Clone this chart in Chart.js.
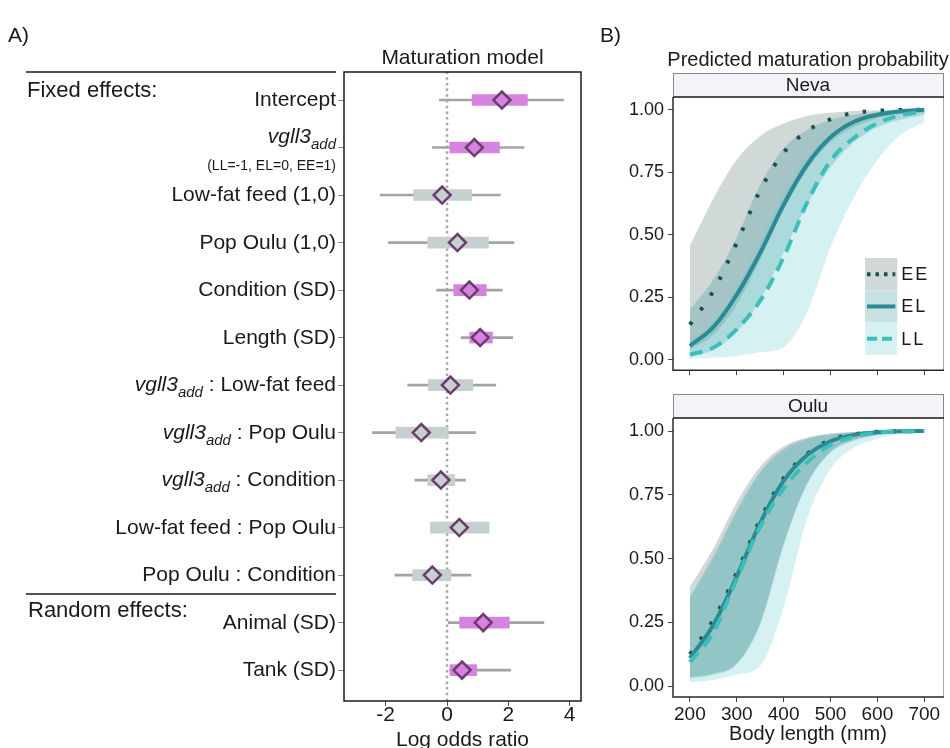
<!DOCTYPE html>
<html>
<head>
<meta charset="utf-8">
<script src="https://cdn.jsdelivr.net/npm/chart.js@4.4.1/dist/chart.umd.min.js"></script>
<style>
  body { margin: 0; background: #fff; width: 950px; height: 748px; overflow: hidden; position: relative; }
  canvas { position: absolute; }
  #cA { left: 0; top: 0; }
  #cN { left: 600px; top: 0; }
  #cO { left: 600px; top: 385px; }
</style>
</head>
<body>
<canvas id="cA" width="600" height="748"></canvas>
<canvas id="cN" width="350" height="385"></canvas>
<canvas id="cO" width="350" height="363"></canvas>
<script>
// ---- panel A: maturation model (log odds ratio) ----
const termLabels = ['Intercept', '', 'Low-fat feed (1,0)', 'Pop Oulu (1,0)', 'Condition (SD)', 'Length (SD)',
  ' : Low-fat feed', ' : Pop Oulu', ' : Condition', 'Low-fat feed : Pop Oulu', 'Pop Oulu : Condition',
  'Animal (SD)', 'Tank (SD)'];
const geneTerm = [false, true, false, false, false, false, true, true, true, false, false, false, false];
const estimate = [1.79, 0.89, -0.16, 0.34, 0.73, 1.08, 0.11, -0.84, -0.20, 0.40, -0.48, 1.18, 0.49];
const ci50Lo = [0.82, 0.09, -1.09, -0.63, 0.22, 0.74, -0.61, -1.67, -0.63, -0.54, -1.12, 0.41, 0.10];
const ci50Hi = [2.62, 1.71, 0.80, 1.35, 1.28, 1.48, 0.84, 0.04, 0.25, 1.37, 0.13, 2.03, 0.97];
const ci95Lo = [-0.25, -0.48, -2.18, -1.91, -0.34, 0.46, -1.28, -2.43, -1.05, -0.54, -1.70, 0.04, 0.08];
const ci95Hi = [3.80, 2.51, 1.74, 2.18, 1.80, 2.14, 1.59, 0.93, 0.60, 1.37, 0.78, 3.16, 2.08];
const significant = [true, true, false, false, true, true, false, false, false, false, false, true, true];
const oddsTicks = [-2, 0, 2, 4];

// ---- panel B: predicted maturation probability ----
const bodyLength = [200, 250, 300, 350, 400, 450, 500, 550, 600, 650, 700];
const probTicks = [0, 0.25, 0.5, 0.75, 1.0];
const lengthTicks = [200, 300, 400, 500, 600, 700];

const nevaEE = [0.14, 0.275, 0.468, 0.678, 0.828, 0.915, 0.962, 0.987, 0.996, 0.999, 1.0];
const nevaEL = [0.055, 0.13, 0.26, 0.428, 0.62, 0.78, 0.89, 0.952, 0.98, 0.994, 1.0];
const nevaLL = [0.02, 0.048, 0.122, 0.236, 0.41, 0.628, 0.796, 0.887, 0.946, 0.978, 0.993];
const nevaEEHi = [0.455, 0.645, 0.80, 0.895, 0.945, 0.975, 0.988, 0.995, 0.998, 0.999, 1.0];
const nevaEELo = [0.04, 0.10, 0.22, 0.40, 0.60, 0.76, 0.87, 0.93, 0.965, 0.982, 0.99];
const nevaELHi = [0.20, 0.32, 0.49, 0.70, 0.845, 0.92, 0.96, 0.98, 0.99, 0.995, 0.998];
const nevaELLo = [0.012, 0.04, 0.11, 0.24, 0.43, 0.62, 0.77, 0.87, 0.93, 0.96, 0.98];
const nevaLLHi = [0.07, 0.15, 0.29, 0.47, 0.66, 0.81, 0.90, 0.95, 0.975, 0.988, 0.995];
const nevaLLLo = [0.005, 0.008, 0.015, 0.03, 0.05, 0.19, 0.45, 0.65, 0.80, 0.90, 0.95];

const ouluEE = [0.125, 0.26, 0.445, 0.653, 0.815, 0.91, 0.965, 0.987, 0.997, 0.999, 1.0];
const ouluEL = [0.11, 0.24, 0.43, 0.64, 0.805, 0.905, 0.96, 0.985, 0.995, 0.999, 1.0];
const ouluLL = [0.095, 0.21, 0.42, 0.625, 0.775, 0.877, 0.945, 0.978, 0.993, 0.998, 1.0];
const ouluEEHi = [0.39, 0.54, 0.72, 0.86, 0.94, 0.975, 0.99, 0.996, 0.999, 1.0, 1.0];
const ouluEELo = [0.035, 0.05, 0.09, 0.25, 0.56, 0.795, 0.92, 0.965, 0.985, 0.995, 0.999];
const ouluELHi = [0.35, 0.51, 0.69, 0.84, 0.93, 0.97, 0.987, 0.995, 0.998, 1.0, 1.0];
const ouluELLo = [0.03, 0.045, 0.085, 0.24, 0.55, 0.79, 0.915, 0.962, 0.984, 0.994, 0.999];
const ouluLLHi = [0.34, 0.49, 0.67, 0.83, 0.92, 0.965, 0.985, 0.994, 0.998, 1.0, 1.0];
const ouluLLLo = [0.015, 0.025, 0.045, 0.08, 0.31, 0.655, 0.85, 0.935, 0.97, 0.988, 0.995];

const FONT = '"Liberation Sans", Arial, sans-serif';
Chart.defaults.font.family = FONT;
Chart.defaults.color = '#1a1a1a';

const pink = '#d682e0';
const grey = '#c6d0cf';
const yMin = 0.35, yMax = 13.59;
const rowPos = termLabels.map((_, i) => termLabels.length - i);
const boxColors = significant.map(s => s ? pink : grey);

const panelA = {
  id: 'panelA',
  afterDraw(chart) {
    const ctx = chart.ctx;
    const a = chart.chartArea;
    const ys = chart.scales.y;
    ctx.save();
    ctx.strokeStyle = '#1a1a1a';
    ctx.lineWidth = 1.5;
    ctx.strokeRect(a.left, a.top, a.right - a.left, a.bottom - a.top);
    // section rules
    ctx.beginPath();
    ctx.moveTo(26, 72); ctx.lineTo(336, 72);
    ctx.moveTo(26, 594); ctx.lineTo(336, 594);
    ctx.lineWidth = 1.3;
    ctx.stroke();
    ctx.fillStyle = '#1a1a1a';
    ctx.textBaseline = 'alphabetic';
    ctx.font = '21px ' + FONT;
    ctx.textAlign = 'left';
    ctx.fillText('A)', 8, 42);
    ctx.font = '22px ' + FONT;
    ctx.fillText('Fixed effects:', 27, 97);
    ctx.fillText('Random effects:', 28, 617);
    ctx.font = '21px ' + FONT;
    ctx.textAlign = 'center';
    ctx.fillText('Maturation model', (a.left + a.right) / 2, 64);
    ctx.fillText('Log odds ratio', (a.left + a.right) / 2, 746);
    // row labels
    const xr = 336;
    termLabels.forEach((lab, i) => {
      const y = ys.getPixelForValue(rowPos[i]);
      let base = y + 6;
      if (geneTerm[i] && lab === '') base = y - 4.5;
      const segs = [];
      if (geneTerm[i]) {
        segs.push({ t: 'vgll3', f: 'italic 21px ' + FONT, dy: 0 });
        segs.push({ t: 'add', f: 'italic 15px ' + FONT, dy: 6 });
      }
      if (lab) segs.push({ t: lab, f: '21px ' + FONT, dy: 0 });
      let w = 0;
      segs.forEach(s => { ctx.font = s.f; s.w = ctx.measureText(s.t).width; w += s.w; });
      let x = xr - w;
      ctx.textAlign = 'left';
      segs.forEach(s => { ctx.font = s.f; ctx.fillText(s.t, x, base + s.dy); x += s.w; });
      if (geneTerm[i] && lab === '') {
        ctx.font = '14px ' + FONT;
        ctx.textAlign = 'right';
        ctx.fillText('(LL=-1, EL=0, EE=1)', xr, y + 22);
      }
    });
    ctx.restore();
  }
};

new Chart(document.getElementById('cA'), {
  type: 'bar',
  data: {
    datasets: [
      {
        type: 'scatter',
        data: estimate.map((v, i) => ({ x: v, y: rowPos[i] })),
        pointStyle: 'rectRot',
        pointRadius: 8.5,
        borderWidth: 2.5,
        borderColor: '#6b3c6e',
        backgroundColor: boxColors,
        order: 0
      },
      {
        type: 'bar',
        data: ci50Lo.map((v, i) => ({ y: rowPos[i], x: [v, ci50Hi[i]] })),
        backgroundColor: boxColors,
        barThickness: 11,
        grouped: false,
        order: 1
      },
      {
        type: 'bar',
        data: ci95Lo.map((v, i) => ({ y: rowPos[i], x: [v, ci95Hi[i]] })),
        backgroundColor: '#a3a3a3',
        barThickness: 2,
        grouped: false,
        order: 2
      },
      {
        type: 'line',
        data: [{ x: 0, y: yMin }, { x: 0, y: yMax }],
        borderColor: '#a8a8a8',
        borderWidth: 2.5,
        borderDash: [2.5, 3.2],
        pointRadius: 0,
        order: 3
      }
    ]
  },
  options: {
    indexAxis: 'y',
    responsive: false,
    animation: false,
    layout: { padding: { left: 0, top: 72, right: 19, bottom: 0 } },
    plugins: { legend: { display: false }, tooltip: { enabled: false } },
    scales: {
      x: {
        type: 'linear', min: -3.36, max: 4.37,
        afterBuildTicks: s => { s.ticks = oddsTicks.map(v => ({ value: v })); },
        afterFit: s => { s.height = 47; },
        ticks: { font: { size: 21 }, color: '#1a1a1a', padding: -3 },
        grid: { drawOnChartArea: false, tickLength: 5, color: '#555' },
        border: { display: false }
      },
      y: {
        type: 'linear', min: yMin, max: yMax, offset: false,
        afterBuildTicks: s => { s.ticks = rowPos.map(v => ({ value: v })); },
        afterFit: s => { s.width = 344; },
        ticks: { display: false },
        grid: { drawOnChartArea: false, offset: false, tickLength: 6, color: '#888' },
        border: { display: false }
      }
    }
  },
  plugins: [panelA]
});

// ---- panel B ----
const eeFill = 'rgba(150,170,168,0.45)';
const elFill = 'rgba(35,135,145,0.25)';
const llFill = 'rgba(90,200,200,0.25)';
const eeLine = '#1f4e50';
const elLine = '#2a8b95';
const llLine = '#3cbfbb';

function pts(arr) { return arr.map((v, i) => ({ x: bodyLength[i], y: v })); }

function ribbon(hi, lo, fill, order) {
  return [
    { data: pts(hi), borderWidth: 0, borderColor: 'rgba(0,0,0,0)', backgroundColor: fill, fill: '+1', order },
    { data: pts(lo), borderWidth: 0, borderColor: 'rgba(0,0,0,0)', fill: false, order }
  ];
}

function facetPlugin(name, isTop) {
  return {
    id: 'facet' + name,
    afterDraw(chart) {
      const ctx = chart.ctx;
      const a = chart.chartArea;
      ctx.save();
      // panel frame
      ctx.strokeStyle = '#aaa';
      ctx.lineWidth = 1;
      ctx.beginPath();
      ctx.moveTo(a.right + 0.5, a.top); ctx.lineTo(a.right + 0.5, a.bottom);
      ctx.stroke();
      ctx.strokeStyle = '#2a2a2a';
      ctx.lineWidth = 1.5;
      ctx.beginPath();
      ctx.moveTo(a.left, a.top); ctx.lineTo(a.left, a.bottom); ctx.lineTo(a.right + 1, a.bottom);
      ctx.stroke();
      // strip
      ctx.fillStyle = '#f3f4f9';
      ctx.fillRect(a.left, a.top - 24, a.right - a.left, 24);
      ctx.strokeStyle = '#888';
      ctx.lineWidth = 1;
      ctx.strokeRect(a.left + 0.5, a.top - 23.5, a.right - a.left, 23.5);
      ctx.strokeStyle = '#2a2a2a';
      ctx.lineWidth = 1.5;
      ctx.beginPath(); ctx.moveTo(a.left, a.top); ctx.lineTo(a.right + 1, a.top); ctx.stroke();
      ctx.fillStyle = '#1a1a1a';
      ctx.font = '19px ' + FONT;
      ctx.textAlign = 'center';
      ctx.textBaseline = 'middle';
      ctx.fillText(name, (a.left + a.right) / 2, a.top - 11);
      if (isTop) {
        ctx.textBaseline = 'alphabetic';
        ctx.font = '20px ' + FONT;
        ctx.fillText('Predicted maturation probability', (a.left + a.right) / 2, 66);
        ctx.textAlign = 'left';
        ctx.font = '21px ' + FONT;
        ctx.fillText('B)', 0, 42);
        // legend
        const kx = a.right - 78, ky = a.top + 161, ks = 32.3;
        const keys = [
          { lab: 'EE', fill: eeFill, col: eeLine, dash: [3.5, 5], w: 4 },
          { lab: 'EL', fill: elFill, col: elLine, dash: [], w: 4 },
          { lab: 'LL', fill: llFill, col: llLine, dash: [10, 5], w: 4 }
        ];
        keys.forEach((k, i) => {
          const y0 = ky + i * ks;
          ctx.fillStyle = '#fff';
          ctx.fillRect(kx, y0, ks, ks);
          ctx.fillStyle = k.fill;
          ctx.fillRect(kx, y0, ks, ks);
          ctx.strokeStyle = k.col;
          ctx.lineWidth = k.w;
          ctx.setLineDash(k.dash);
          ctx.beginPath();
          ctx.moveTo(kx + 2, y0 + ks / 2); ctx.lineTo(kx + ks - 2, y0 + ks / 2);
          ctx.stroke();
          ctx.setLineDash([]);
          ctx.fillStyle = '#1a1a1a';
          ctx.font = '18px ' + FONT;
          ctx.letterSpacing = '2px';
          ctx.textBaseline = 'middle';
          ctx.fillText(k.lab, kx + ks + 4, y0 + ks / 2 + 1);
          ctx.letterSpacing = '0px';
        });
      }
      ctx.restore();
    }
  };
}

function facet(canvasId, name, lines, bands, isTop) {
  const [ee, el, ll] = lines;
  const [eeHi, eeLo, elHi, elLo, llHi, llLo] = bands;
  const canvas = document.getElementById(canvasId);
  const H = canvas.height;
  const top = isTop ? 97 : 33;
  const bottom = isTop ? 374 : 312;
  new Chart(canvas, {
    type: 'line',
    data: {
      datasets: [
        ...ribbon(eeHi, eeLo, eeFill, 3),
        ...ribbon(elHi, elLo, elFill, 2),
        ...ribbon(llHi, llLo, llFill, 1),
        { data: pts(ll), borderColor: llLine, borderWidth: 4, borderDash: [13, 8], fill: false, order: 0 },
        { data: pts(el), borderColor: elLine, borderWidth: 4, fill: false, order: 0 },
        { data: pts(ee), borderColor: eeLine, borderWidth: 4, borderDash: [3.5, 14.5], fill: false, order: 0 }
      ]
    },
    options: {
      responsive: false,
      animation: false,
      layout: { padding: { left: 0, top: top, right: 7, bottom: 0 } },
      elements: { point: { radius: 0 }, line: { cubicInterpolationMode: 'monotone' } },
      plugins: { legend: { display: false }, tooltip: { enabled: false }, filler: { propagate: false } },
      scales: {
        x: {
          type: 'linear', min: 164, max: 740,
          afterBuildTicks: s => { s.ticks = lengthTicks.map(v => ({ value: v })); },
          afterFit: s => { s.height = H - bottom; },
          ticks: { display: !isTop, font: { size: 19 }, color: '#1a1a1a', padding: 1 },
          grid: { drawOnChartArea: false, tickLength: 5, color: '#444' },
          border: { display: false },
          title: { display: !isTop, text: 'Body length (mm)', font: { size: 20 }, color: '#1a1a1a', padding: { top: 0, bottom: 2 } }
        },
        y: {
          type: 'linear', min: -0.042, max: 1.051,
          afterBuildTicks: s => { s.ticks = probTicks.map(v => ({ value: v })); },
          afterFit: s => { s.width = 73; },
          ticks: { font: { size: 18 }, color: '#1a1a1a', padding: 4, callback: v => v.toFixed(2) },
          grid: { drawOnChartArea: false, tickLength: 5, color: '#444' },
          border: { display: false }
        }
      }
    },
    plugins: [facetPlugin(name, isTop)]
  });
}

facet('cN', 'Neva', [nevaEE, nevaEL, nevaLL],
  [nevaEEHi, nevaEELo, nevaELHi, nevaELLo, nevaLLHi, nevaLLLo], true);
facet('cO', 'Oulu', [ouluEE, ouluEL, ouluLL],
  [ouluEEHi, ouluEELo, ouluELHi, ouluELLo, ouluLLHi, ouluLLLo], false);
</script>
</body>
</html>
